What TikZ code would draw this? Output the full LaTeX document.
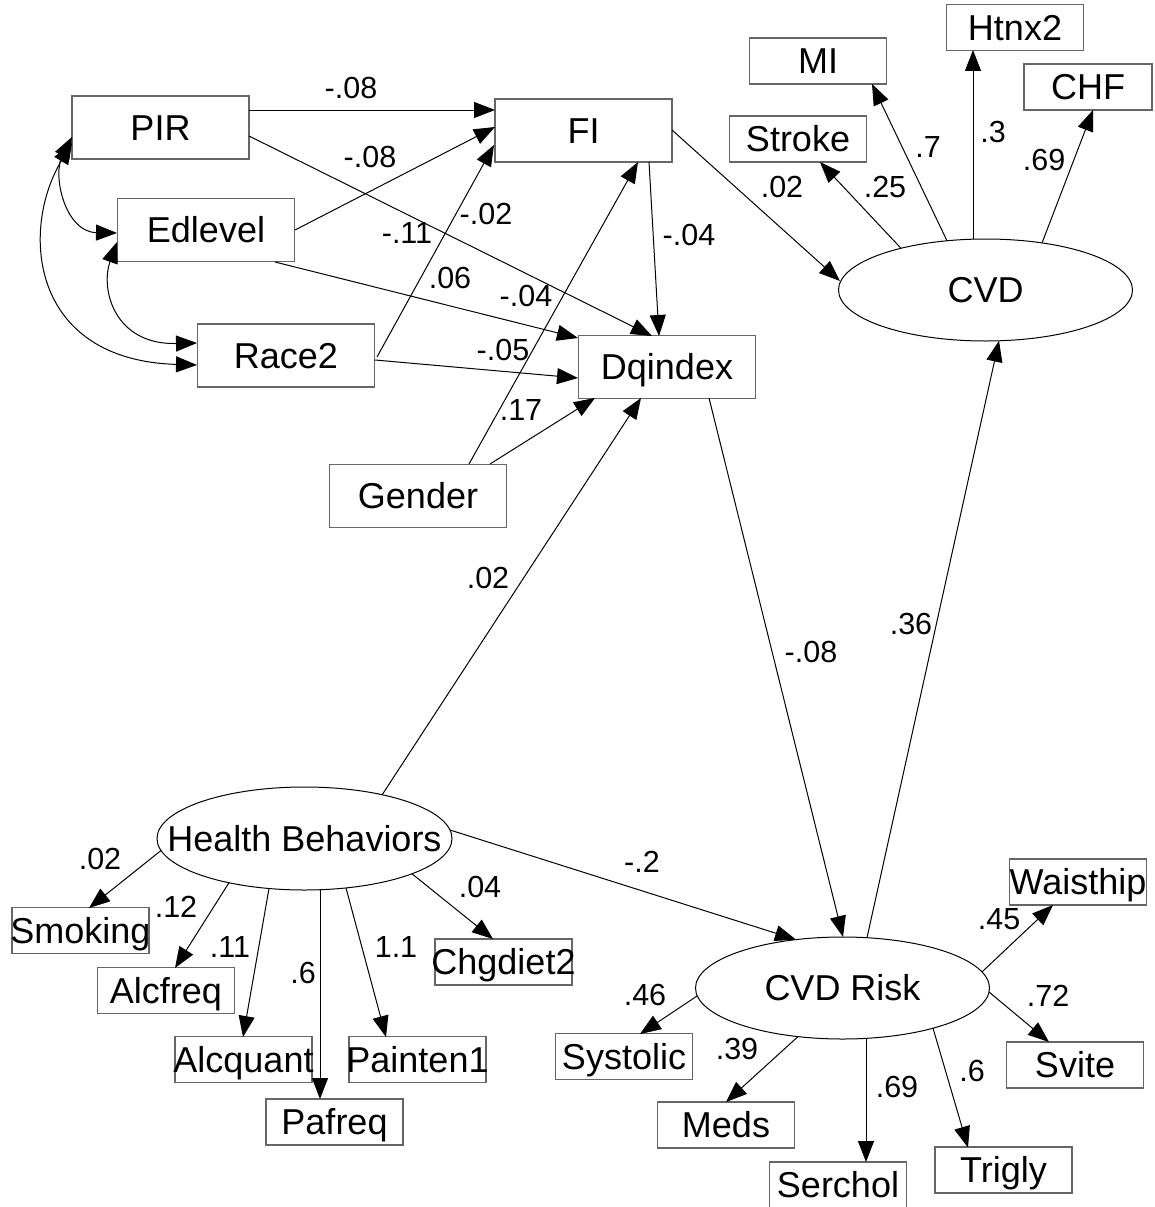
\documentclass[tikz,border=0pt]{standalone}
\usepackage{fontspec}
\setmainfont{Liberation Sans}
\usetikzlibrary{arrows.meta,shapes.geometric,calc}
\newcommand{\zw}[1]{\makebox[0pt][c]{#1}}
\begin{document}
\begin{tikzpicture}[x=1pt,y=-1pt,
  obs/.style={draw=black!60, line width=1.3pt, rectangle, inner sep=0pt,
    font=\fontsize{36}{40}\selectfont, text height=25.8pt, text depth=0pt},
  big/.style={minimum width=177pt, minimum height=63pt},
  small/.style={minimum width=137pt, minimum height=46pt},
  lat/.style={draw=black, line width=1pt, ellipse, inner sep=0pt,
    font=\fontsize{36}{40}\selectfont, text height=25.8pt, text depth=0pt,
    minimum width=294pt, minimum height=102pt},
  coef/.style={inner sep=0pt, font=\fontsize{30.5}{34}\selectfont, text height=21.8pt, text depth=0pt},
  arr/.style={line width=1pt, -{Triangle[length=21pt,width=16pt]}},
  covarr/.style={line width=1pt, {Triangle[length=21pt,width=16pt]}-{Triangle[length=21pt,width=16pt]}},
]
\fill[white] (0,0) rectangle (1154,1207);
\useasboundingbox (0,0) rectangle (1154,1207);

% exogenous / observed
\node[obs,big] (PIR) at (160.5,127.5) {\zw{PIR}};
\node[obs,big] (Edlevel) at (206,230) {\zw{Edlevel}};
\node[obs,big] (Race2) at (286,355.5) {\zw{Race2}};
\node[obs,big] (FI) at (583.5,130.5) {\zw{FI}};
\node[obs,big] (Dqindex) at (667,367) {\zw{Dqindex}};
\node[obs,big] (Gender) at (418,496) {\zw{Gender}};

% CVD latent and indicators
\node[lat] (CVD) at (985.5,290) {\zw{CVD}};
\node[obs,small] (MI) at (818,61) {\zw{MI}};
\node[obs,small] (Htnx2) at (1015,27.5) {\zw{Htnx2}};
\node[obs,small,minimum width=128pt] (CHF) at (1088,87) {\zw{CHF}};
\node[obs,small] (Stroke) at (798,139) {\zw{Stroke}};

% Health behaviors
\node[lat,minimum width=295pt,minimum height=103pt] (HB) at (304.5,838.5) {\zw{Health Behaviors}};
\node[obs,small] (Smoking) at (80.5,930.5) {\zw{Smoking}};
\node[obs,small] (Alcfreq) at (166,990.5) {\zw{Alcfreq}};
\node[obs,small] (Alcquant) at (243.5,1059.5) {\zw{Alcquant}};
\node[obs,small] (Painten1) at (417.5,1059.5) {\zw{Painten1}};
\node[obs,small] (Chgdiet2) at (503.5,962) {\zw{Chgdiet2}};
\node[obs,small] (Pafreq) at (334.5,1122) {\zw{Pafreq}};

% CVD Risk
\node[lat] (CVDRisk) at (842.5,988) {\zw{CVD Risk}};
\node[obs,small] (Waisthip) at (1078,882) {\zw{Waisthip}};
\node[obs,small] (Systolic) at (624,1056.5) {\zw{Systolic}};
\node[obs,small] (Meds) at (726,1125) {\zw{Meds}};
\node[obs,small] (Serchol) at (838,1185) {\zw{Serchol}};
\node[obs,small] (Trigly) at (1003.5,1170) {\zw{Trigly}};
\node[obs,small] (Svite) at (1075,1065) {\zw{Svite}};

% structural paths
\draw[arr] ($(PIR)+(88.5,-17.5)$) -- ($(FI)+(-88.5,-20.5)$);
\draw[arr] ($(PIR)+(88.5,8.5)$) -- ($(Dqindex)+(-15,-31)$);
\draw[arr] ($(Edlevel)+(89,0)$) -- ($(FI)+(-88.5,-3.5)$);
\draw[arr] ($(Edlevel)+(69,32)$) -- ($(Dqindex)+(-89,-29)$);
\draw[arr] ($(Race2)+(91,1.5)$) -- ($(FI)+(-89.5,14.5)$);
\draw[arr] ($(Race2)+(89,4.5)$) -- ($(Dqindex)+(-89,11)$);
\draw[arr] ($(Gender)+(51,-32)$) -- ($(FI)+(54.5,31.5)$);
\draw[arr] ($(Gender)+(72,-32)$) -- ($(Dqindex)+(-72,31)$);
\draw[arr] ($(FI)+(65.5,31.5)$) -- ($(Dqindex)+(-8,-31)$);
\draw[arr] ($(FI)+(88.5,-0.5)$) -- ($(CVD)+(-145.5,-9)$);
\draw[arr] ($(HB)+(77.5,-43.5)$) -- ($(Dqindex)+(-26,31)$);
\draw[arr] ($(Dqindex)+(42,31)$) -- ($(CVDRisk)+(0.5,-51)$);
\draw[arr] ($(CVDRisk)+(24.5,-50.3)$) -- ($(CVD)+(13.5,50.8)$);
\draw[arr] ($(HB)+(145.5,-8.5)$) -- ($(CVDRisk)+(-46.5,-48.4)$);

% CVD indicators
\draw[arr] ($(CVD)+(-84.5,-41.7)$) -- ($(Stroke)+(22,23)$);
\draw[arr] ($(CVD)+(-38.5,-49.2)$) -- ($(MI)+(54,23)$);
\draw[arr] ($(CVD)+(-12.5,-50.8)$) -- ($(Htnx2)+(-42,22.5)$);
\draw[arr] ($(CVD)+(56.5,-47)$) -- ($(CHF)+(5,23)$);

% HB indicators
\draw[arr] ($(HB)+(-143.5,12)$) -- ($(Smoking)+(8.5,-22.5)$);
\draw[arr] ($(HB)+(-75.5,44.2)$) -- ($(Alcfreq)+(9,-22.5)$);
\draw[arr] ($(HB)+(-35.5,50)$) -- ($(Alcquant)+(-0.5,-22.5)$);
\draw[arr] ($(HB)+(15.5,51.2)$) -- ($(Pafreq)+(-14.5,-23)$);
\draw[arr] ($(HB)+(41.5,49.4)$) -- ($(Painten1)+(-31.5,-22.5)$);
\draw[arr] ($(HB)+(107.5,35.3)$) -- ($(Chgdiet2)+(-10.5,-23)$);

% CVD Risk indicators
\draw[arr] ($(CVDRisk)+(139.5,-16.1)$) -- ($(Waisthip)+(-25,23)$);
\draw[arr] ($(CVDRisk)+(146.5,4)$) -- ($(Svite)+(-26,-23)$);
\draw[arr] ($(CVDRisk)+(-145.5,8)$) -- ($(Systolic)+(16,-22.5)$);
\draw[arr] ($(CVDRisk)+(-44.5,48.6)$) -- ($(Meds)+(0,-23)$);
\draw[arr] ($(CVDRisk)+(23.5,50.3)$) -- ($(Serchol)+(28,-23)$);
\draw[arr] ($(CVDRisk)+(90.5,40.2)$) -- ($(Trigly)+(-35.5,-22.5)$);

% covariances
\draw[covarr] ($(PIR)+(-88.5,9.5)$) .. controls ($(PIR)+(-108.5,47.5)$) and ($(Edlevel)+(-141,2)$) .. ($(Edlevel)+(-89,3)$);
\draw[covarr] ($(Edlevel)+(-89,12)$) .. controls ($(Edlevel)+(-106,60)$) and ($(Race2)+(-171,-10.5)$) .. ($(Race2)+(-89,-12.5)$);
\draw[covarr] ($(PIR)+(-88.5,15.5)$) .. controls ($(PIR)+(-140.5,102.5)$) and ($(Race2)+(-256,4.5)$) .. ($(Race2)+(-89,9.5)$);

% coefficients
\node[coef] (k1) at (351,88) {-.08};
\node[coef] (k2) at (370,157) {-.08};
\node[coef] (k3) at (486,214) {-.02};
\node[coef] (k4) at (407,233) {-.11};
\node[coef] (k5) at (450,278) {.06};
\node[coef] (k6) at (526,296) {-.04};
\node[coef] (k7) at (503,350) {-.05};
\node[coef] (k8) at (521,410) {.17};
\node[coef] (k9) at (689,235) {-.04};
\node[coef] (k10) at (782,187) {.02};
\node[coef] (k11) at (885,187) {.25};
\node[coef] (k12) at (928,147) {.7};
\node[coef] (k13) at (993,132) {.3};
\node[coef] (k14) at (1044,160) {.69};
\node[coef] (k15) at (488,578) {.02};
\node[coef] (k16) at (811,652) {-.08};
\node[coef] (k17) at (911,624) {.36};
\node[coef] (k18) at (642,862) {-.2};
\node[coef] (k19) at (100,859) {.02};
\node[coef] (k20) at (176,907) {.12};
\node[coef] (k21) at (230,947) {.11};
\node[coef] (k22) at (303,973) {.6};
\node[coef] (k23) at (396,947) {1.1};
\node[coef] (k24) at (480,887) {.04};
\node[coef] (k25) at (999,919) {.45};
\node[coef] (k26) at (1048,996) {.72};
\node[coef] (k27) at (645,995) {.46};
\node[coef] (k28) at (737,1049) {.39};
\node[coef] (k29) at (897,1087) {.69};
\node[coef] (k30) at (972,1071) {.6};
\end{tikzpicture}
\end{document}
